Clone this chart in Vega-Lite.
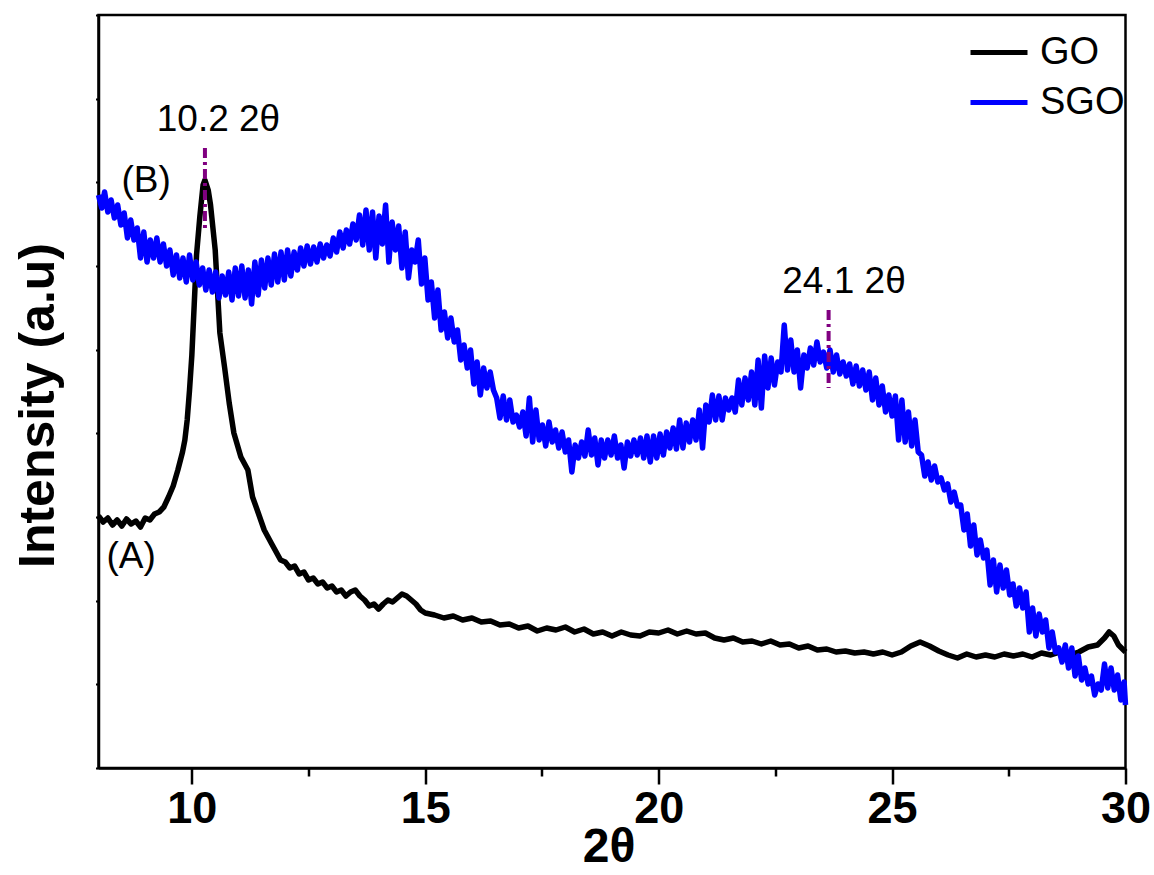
{
  "$schema": "https://vega.github.io/schema/vega-lite/v6.json",
  "autosize": "none",
  "width": 1027,
  "height": 753,
  "padding": {"left": 98.5, "top": 15, "right": 28.5, "bottom": 107},
  "background": "white",
  "config": {
    "view": {"stroke": "black", "strokeWidth": 2.5},
    "axis": {"domainColor": "black", "domainWidth": 2.5, "tickColor": "black", "grid": false}
  },
  "datasets": {
    "curves": [
      {"s":"GO","t":8.0,"i":252},{"s":"GO","t":8.1,"i":246},{"s":"GO","t":8.2,"i":250},{"s":"GO","t":8.3,"i":243},{"s":"GO","t":8.4,"i":248},{"s":"GO","t":8.5,"i":242},{"s":"GO","t":8.6,"i":249},{"s":"GO","t":8.7,"i":244},{"s":"GO","t":8.8,"i":247},{"s":"GO","t":8.9,"i":241},{"s":"GO","t":9.0,"i":250},{"s":"GO","t":9.1,"i":248},{"s":"GO","t":9.2,"i":254},{"s":"GO","t":9.3,"i":256},{"s":"GO","t":9.4,"i":261},{"s":"GO","t":9.5,"i":271},{"s":"GO","t":9.6,"i":282},{"s":"GO","t":9.7,"i":298},{"s":"GO","t":9.8,"i":316},{"s":"GO","t":9.85,"i":328},{"s":"GO","t":9.9,"i":348},{"s":"GO","t":9.95,"i":378},{"s":"GO","t":10.0,"i":413},{"s":"GO","t":10.05,"i":463},{"s":"GO","t":10.1,"i":513},{"s":"GO","t":10.17,"i":551},{"s":"GO","t":10.24,"i":583},{"s":"GO","t":10.28,"i":588},{"s":"GO","t":10.35,"i":578},{"s":"GO","t":10.4,"i":563},{"s":"GO","t":10.5,"i":518},{"s":"GO","t":10.6,"i":435},{"s":"GO","t":10.7,"i":401},{"s":"GO","t":10.8,"i":365},{"s":"GO","t":10.9,"i":335},{"s":"GO","t":11.05,"i":311},{"s":"GO","t":11.2,"i":298},{"s":"GO","t":11.3,"i":271},{"s":"GO","t":11.4,"i":258},{"s":"GO","t":11.55,"i":238},{"s":"GO","t":11.7,"i":225},{"s":"GO","t":11.9,"i":208},{"s":"GO","t":12.0,"i":206},{"s":"GO","t":12.1,"i":200},{"s":"GO","t":12.2,"i":202},{"s":"GO","t":12.3,"i":194},{"s":"GO","t":12.4,"i":196},{"s":"GO","t":12.5,"i":188},{"s":"GO","t":12.6,"i":190},{"s":"GO","t":12.7,"i":184},{"s":"GO","t":12.8,"i":186},{"s":"GO","t":12.9,"i":180},{"s":"GO","t":13.0,"i":182},{"s":"GO","t":13.1,"i":176},{"s":"GO","t":13.2,"i":178},{"s":"GO","t":13.3,"i":172},{"s":"GO","t":13.4,"i":176},{"s":"GO","t":13.5,"i":178},{"s":"GO","t":13.6,"i":172},{"s":"GO","t":13.7,"i":168},{"s":"GO","t":13.8,"i":162},{"s":"GO","t":13.9,"i":164},{"s":"GO","t":14.0,"i":159},{"s":"GO","t":14.1,"i":164},{"s":"GO","t":14.2,"i":168},{"s":"GO","t":14.3,"i":166},{"s":"GO","t":14.4,"i":170},{"s":"GO","t":14.5,"i":174},{"s":"GO","t":14.6,"i":172},{"s":"GO","t":14.7,"i":168},{"s":"GO","t":14.8,"i":164},{"s":"GO","t":14.9,"i":158},{"s":"GO","t":15.0,"i":155},{"s":"GO","t":15.2,"i":153},{"s":"GO","t":15.4,"i":150},{"s":"GO","t":15.6,"i":152},{"s":"GO","t":15.8,"i":148},{"s":"GO","t":16.0,"i":150},{"s":"GO","t":16.2,"i":146},{"s":"GO","t":16.4,"i":147},{"s":"GO","t":16.6,"i":143},{"s":"GO","t":16.8,"i":144},{"s":"GO","t":17.0,"i":140},{"s":"GO","t":17.2,"i":142},{"s":"GO","t":17.4,"i":137},{"s":"GO","t":17.6,"i":140},{"s":"GO","t":17.8,"i":138},{"s":"GO","t":18.0,"i":141},{"s":"GO","t":18.2,"i":136},{"s":"GO","t":18.4,"i":139},{"s":"GO","t":18.6,"i":134},{"s":"GO","t":18.8,"i":136},{"s":"GO","t":19.0,"i":132},{"s":"GO","t":19.2,"i":136},{"s":"GO","t":19.4,"i":133},{"s":"GO","t":19.6,"i":132},{"s":"GO","t":19.8,"i":136},{"s":"GO","t":20.0,"i":135},{"s":"GO","t":20.2,"i":138},{"s":"GO","t":20.4,"i":134},{"s":"GO","t":20.6,"i":137},{"s":"GO","t":20.8,"i":134},{"s":"GO","t":21.0,"i":135},{"s":"GO","t":21.2,"i":130},{"s":"GO","t":21.4,"i":128},{"s":"GO","t":21.6,"i":130},{"s":"GO","t":21.8,"i":126},{"s":"GO","t":22.0,"i":127},{"s":"GO","t":22.2,"i":124},{"s":"GO","t":22.4,"i":127},{"s":"GO","t":22.6,"i":123},{"s":"GO","t":22.8,"i":124},{"s":"GO","t":23.0,"i":120},{"s":"GO","t":23.2,"i":122},{"s":"GO","t":23.4,"i":118},{"s":"GO","t":23.6,"i":119},{"s":"GO","t":23.8,"i":116},{"s":"GO","t":24.0,"i":117},{"s":"GO","t":24.2,"i":115},{"s":"GO","t":24.4,"i":116},{"s":"GO","t":24.6,"i":114},{"s":"GO","t":24.8,"i":116},{"s":"GO","t":25.0,"i":113},{"s":"GO","t":25.2,"i":116},{"s":"GO","t":25.4,"i":122},{"s":"GO","t":25.6,"i":126},{"s":"GO","t":25.8,"i":122},{"s":"GO","t":26.0,"i":117},{"s":"GO","t":26.2,"i":113},{"s":"GO","t":26.4,"i":110},{"s":"GO","t":26.6,"i":114},{"s":"GO","t":26.8,"i":111},{"s":"GO","t":27.0,"i":113},{"s":"GO","t":27.2,"i":111},{"s":"GO","t":27.4,"i":114},{"s":"GO","t":27.6,"i":112},{"s":"GO","t":27.8,"i":114},{"s":"GO","t":28.0,"i":111},{"s":"GO","t":28.2,"i":115},{"s":"GO","t":28.4,"i":113},{"s":"GO","t":28.6,"i":116},{"s":"GO","t":28.8,"i":113},{"s":"GO","t":29.0,"i":116},{"s":"GO","t":29.2,"i":121},{"s":"GO","t":29.4,"i":123},{"s":"GO","t":29.55,"i":130},{"s":"GO","t":29.65,"i":136},{"s":"GO","t":29.75,"i":132},{"s":"GO","t":29.85,"i":123},{"s":"GO","t":30.0,"i":116},
      {"s":"SGO","t":8.00,"i":573},{"s":"SGO","t":8.07,"i":560},{"s":"SGO","t":8.13,"i":576},{"s":"SGO","t":8.20,"i":556},{"s":"SGO","t":8.27,"i":568},{"s":"SGO","t":8.34,"i":550},{"s":"SGO","t":8.41,"i":563},{"s":"SGO","t":8.48,"i":543},{"s":"SGO","t":8.55,"i":555},{"s":"SGO","t":8.62,"i":530},{"s":"SGO","t":8.69,"i":548},{"s":"SGO","t":8.76,"i":528},{"s":"SGO","t":8.83,"i":540},{"s":"SGO","t":8.90,"i":510},{"s":"SGO","t":8.97,"i":536},{"s":"SGO","t":9.04,"i":506},{"s":"SGO","t":9.11,"i":528},{"s":"SGO","t":9.18,"i":510},{"s":"SGO","t":9.25,"i":530},{"s":"SGO","t":9.32,"i":506},{"s":"SGO","t":9.39,"i":524},{"s":"SGO","t":9.46,"i":502},{"s":"SGO","t":9.53,"i":518},{"s":"SGO","t":9.60,"i":493},{"s":"SGO","t":9.67,"i":513},{"s":"SGO","t":9.74,"i":490},{"s":"SGO","t":9.81,"i":510},{"s":"SGO","t":9.88,"i":486},{"s":"SGO","t":9.95,"i":513},{"s":"SGO","t":10.02,"i":488},{"s":"SGO","t":10.09,"i":506},{"s":"SGO","t":10.16,"i":483},{"s":"SGO","t":10.23,"i":500},{"s":"SGO","t":10.30,"i":478},{"s":"SGO","t":10.37,"i":498},{"s":"SGO","t":10.44,"i":476},{"s":"SGO","t":10.51,"i":496},{"s":"SGO","t":10.58,"i":470},{"s":"SGO","t":10.65,"i":492},{"s":"SGO","t":10.72,"i":473},{"s":"SGO","t":10.79,"i":496},{"s":"SGO","t":10.86,"i":468},{"s":"SGO","t":10.93,"i":500},{"s":"SGO","t":11.00,"i":472},{"s":"SGO","t":11.07,"i":502},{"s":"SGO","t":11.14,"i":470},{"s":"SGO","t":11.21,"i":498},{"s":"SGO","t":11.28,"i":464},{"s":"SGO","t":11.35,"i":506},{"s":"SGO","t":11.42,"i":473},{"s":"SGO","t":11.49,"i":508},{"s":"SGO","t":11.56,"i":480},{"s":"SGO","t":11.63,"i":510},{"s":"SGO","t":11.70,"i":483},{"s":"SGO","t":11.77,"i":514},{"s":"SGO","t":11.84,"i":486},{"s":"SGO","t":11.91,"i":516},{"s":"SGO","t":11.98,"i":488},{"s":"SGO","t":12.05,"i":518},{"s":"SGO","t":12.12,"i":492},{"s":"SGO","t":12.19,"i":516},{"s":"SGO","t":12.26,"i":498},{"s":"SGO","t":12.33,"i":520},{"s":"SGO","t":12.40,"i":502},{"s":"SGO","t":12.47,"i":522},{"s":"SGO","t":12.54,"i":504},{"s":"SGO","t":12.61,"i":521},{"s":"SGO","t":12.68,"i":506},{"s":"SGO","t":12.75,"i":524},{"s":"SGO","t":12.82,"i":510},{"s":"SGO","t":12.89,"i":523},{"s":"SGO","t":12.96,"i":512},{"s":"SGO","t":13.03,"i":530},{"s":"SGO","t":13.10,"i":516},{"s":"SGO","t":13.17,"i":536},{"s":"SGO","t":13.24,"i":520},{"s":"SGO","t":13.31,"i":538},{"s":"SGO","t":13.38,"i":524},{"s":"SGO","t":13.45,"i":544},{"s":"SGO","t":13.52,"i":528},{"s":"SGO","t":13.59,"i":553},{"s":"SGO","t":13.66,"i":523},{"s":"SGO","t":13.73,"i":558},{"s":"SGO","t":13.80,"i":518},{"s":"SGO","t":13.87,"i":556},{"s":"SGO","t":13.94,"i":510},{"s":"SGO","t":14.01,"i":552},{"s":"SGO","t":14.08,"i":524},{"s":"SGO","t":14.15,"i":563},{"s":"SGO","t":14.22,"i":506},{"s":"SGO","t":14.29,"i":546},{"s":"SGO","t":14.36,"i":518},{"s":"SGO","t":14.43,"i":542},{"s":"SGO","t":14.50,"i":500},{"s":"SGO","t":14.57,"i":536},{"s":"SGO","t":14.64,"i":490},{"s":"SGO","t":14.71,"i":518},{"s":"SGO","t":14.78,"i":506},{"s":"SGO","t":14.85,"i":528},{"s":"SGO","t":14.92,"i":484},{"s":"SGO","t":14.99,"i":510},{"s":"SGO","t":15.06,"i":468},{"s":"SGO","t":15.13,"i":486},{"s":"SGO","t":15.20,"i":450},{"s":"SGO","t":15.27,"i":478},{"s":"SGO","t":15.34,"i":438},{"s":"SGO","t":15.41,"i":456},{"s":"SGO","t":15.48,"i":430},{"s":"SGO","t":15.55,"i":450},{"s":"SGO","t":15.62,"i":426},{"s":"SGO","t":15.69,"i":438},{"s":"SGO","t":15.76,"i":408},{"s":"SGO","t":15.83,"i":423},{"s":"SGO","t":15.90,"i":400},{"s":"SGO","t":15.97,"i":418},{"s":"SGO","t":16.04,"i":384},{"s":"SGO","t":16.11,"i":406},{"s":"SGO","t":16.18,"i":373},{"s":"SGO","t":16.25,"i":400},{"s":"SGO","t":16.32,"i":380},{"s":"SGO","t":16.39,"i":396},{"s":"SGO","t":16.46,"i":378},{"s":"SGO","t":16.53,"i":370},{"s":"SGO","t":16.60,"i":350},{"s":"SGO","t":16.67,"i":372},{"s":"SGO","t":16.74,"i":348},{"s":"SGO","t":16.81,"i":368},{"s":"SGO","t":16.88,"i":346},{"s":"SGO","t":16.95,"i":353},{"s":"SGO","t":17.02,"i":341},{"s":"SGO","t":17.09,"i":356},{"s":"SGO","t":17.16,"i":332},{"s":"SGO","t":17.23,"i":370},{"s":"SGO","t":17.30,"i":326},{"s":"SGO","t":17.37,"i":358},{"s":"SGO","t":17.44,"i":328},{"s":"SGO","t":17.51,"i":343},{"s":"SGO","t":17.58,"i":322},{"s":"SGO","t":17.65,"i":346},{"s":"SGO","t":17.72,"i":326},{"s":"SGO","t":17.79,"i":338},{"s":"SGO","t":17.86,"i":320},{"s":"SGO","t":17.93,"i":336},{"s":"SGO","t":18.00,"i":316},{"s":"SGO","t":18.07,"i":328},{"s":"SGO","t":18.14,"i":296},{"s":"SGO","t":18.21,"i":323},{"s":"SGO","t":18.28,"i":310},{"s":"SGO","t":18.35,"i":326},{"s":"SGO","t":18.42,"i":312},{"s":"SGO","t":18.49,"i":338},{"s":"SGO","t":18.56,"i":313},{"s":"SGO","t":18.63,"i":330},{"s":"SGO","t":18.70,"i":303},{"s":"SGO","t":18.77,"i":328},{"s":"SGO","t":18.84,"i":310},{"s":"SGO","t":18.91,"i":328},{"s":"SGO","t":18.98,"i":313},{"s":"SGO","t":19.05,"i":332},{"s":"SGO","t":19.12,"i":310},{"s":"SGO","t":19.19,"i":323},{"s":"SGO","t":19.26,"i":300},{"s":"SGO","t":19.33,"i":326},{"s":"SGO","t":19.40,"i":312},{"s":"SGO","t":19.47,"i":328},{"s":"SGO","t":19.54,"i":313},{"s":"SGO","t":19.61,"i":330},{"s":"SGO","t":19.68,"i":310},{"s":"SGO","t":19.75,"i":332},{"s":"SGO","t":19.82,"i":306},{"s":"SGO","t":19.89,"i":332},{"s":"SGO","t":19.96,"i":310},{"s":"SGO","t":20.03,"i":334},{"s":"SGO","t":20.10,"i":313},{"s":"SGO","t":20.17,"i":336},{"s":"SGO","t":20.24,"i":320},{"s":"SGO","t":20.31,"i":340},{"s":"SGO","t":20.38,"i":319},{"s":"SGO","t":20.45,"i":348},{"s":"SGO","t":20.52,"i":320},{"s":"SGO","t":20.59,"i":345},{"s":"SGO","t":20.66,"i":326},{"s":"SGO","t":20.73,"i":348},{"s":"SGO","t":20.80,"i":328},{"s":"SGO","t":20.87,"i":358},{"s":"SGO","t":20.94,"i":320},{"s":"SGO","t":21.01,"i":363},{"s":"SGO","t":21.08,"i":346},{"s":"SGO","t":21.15,"i":373},{"s":"SGO","t":21.22,"i":348},{"s":"SGO","t":21.29,"i":372},{"s":"SGO","t":21.36,"i":348},{"s":"SGO","t":21.43,"i":370},{"s":"SGO","t":21.50,"i":358},{"s":"SGO","t":21.57,"i":370},{"s":"SGO","t":21.64,"i":356},{"s":"SGO","t":21.71,"i":388},{"s":"SGO","t":21.78,"i":363},{"s":"SGO","t":21.85,"i":390},{"s":"SGO","t":21.92,"i":368},{"s":"SGO","t":21.99,"i":396},{"s":"SGO","t":22.06,"i":363},{"s":"SGO","t":22.13,"i":408},{"s":"SGO","t":22.20,"i":360},{"s":"SGO","t":22.27,"i":412},{"s":"SGO","t":22.34,"i":380},{"s":"SGO","t":22.41,"i":410},{"s":"SGO","t":22.48,"i":383},{"s":"SGO","t":22.55,"i":406},{"s":"SGO","t":22.62,"i":396},{"s":"SGO","t":22.69,"i":443},{"s":"SGO","t":22.76,"i":398},{"s":"SGO","t":22.83,"i":428},{"s":"SGO","t":22.90,"i":396},{"s":"SGO","t":22.97,"i":418},{"s":"SGO","t":23.04,"i":380},{"s":"SGO","t":23.11,"i":413},{"s":"SGO","t":23.18,"i":400},{"s":"SGO","t":23.25,"i":420},{"s":"SGO","t":23.32,"i":403},{"s":"SGO","t":23.39,"i":426},{"s":"SGO","t":23.46,"i":406},{"s":"SGO","t":23.53,"i":416},{"s":"SGO","t":23.60,"i":400},{"s":"SGO","t":23.67,"i":418},{"s":"SGO","t":23.74,"i":396},{"s":"SGO","t":23.81,"i":413},{"s":"SGO","t":23.88,"i":394},{"s":"SGO","t":23.95,"i":406},{"s":"SGO","t":24.02,"i":392},{"s":"SGO","t":24.09,"i":404},{"s":"SGO","t":24.16,"i":384},{"s":"SGO","t":24.23,"i":402},{"s":"SGO","t":24.30,"i":382},{"s":"SGO","t":24.37,"i":398},{"s":"SGO","t":24.44,"i":378},{"s":"SGO","t":24.51,"i":396},{"s":"SGO","t":24.58,"i":368},{"s":"SGO","t":24.65,"i":390},{"s":"SGO","t":24.72,"i":363},{"s":"SGO","t":24.79,"i":382},{"s":"SGO","t":24.86,"i":356},{"s":"SGO","t":24.93,"i":373},{"s":"SGO","t":25.00,"i":352},{"s":"SGO","t":25.07,"i":372},{"s":"SGO","t":25.14,"i":328},{"s":"SGO","t":25.21,"i":368},{"s":"SGO","t":25.28,"i":326},{"s":"SGO","t":25.35,"i":356},{"s":"SGO","t":25.42,"i":322},{"s":"SGO","t":25.49,"i":348},{"s":"SGO","t":25.56,"i":316},{"s":"SGO","t":25.63,"i":313},{"s":"SGO","t":25.70,"i":292},{"s":"SGO","t":25.77,"i":306},{"s":"SGO","t":25.84,"i":288},{"s":"SGO","t":25.91,"i":302},{"s":"SGO","t":25.98,"i":286},{"s":"SGO","t":26.05,"i":290},{"s":"SGO","t":26.12,"i":278},{"s":"SGO","t":26.19,"i":284},{"s":"SGO","t":26.26,"i":266},{"s":"SGO","t":26.33,"i":276},{"s":"SGO","t":26.40,"i":262},{"s":"SGO","t":26.47,"i":263},{"s":"SGO","t":26.54,"i":238},{"s":"SGO","t":26.61,"i":254},{"s":"SGO","t":26.68,"i":222},{"s":"SGO","t":26.75,"i":243},{"s":"SGO","t":26.82,"i":213},{"s":"SGO","t":26.89,"i":228},{"s":"SGO","t":26.96,"i":210},{"s":"SGO","t":27.03,"i":218},{"s":"SGO","t":27.10,"i":183},{"s":"SGO","t":27.17,"i":208},{"s":"SGO","t":27.24,"i":176},{"s":"SGO","t":27.31,"i":203},{"s":"SGO","t":27.38,"i":180},{"s":"SGO","t":27.45,"i":198},{"s":"SGO","t":27.52,"i":173},{"s":"SGO","t":27.59,"i":184},{"s":"SGO","t":27.66,"i":162},{"s":"SGO","t":27.73,"i":180},{"s":"SGO","t":27.80,"i":160},{"s":"SGO","t":27.87,"i":176},{"s":"SGO","t":27.94,"i":136},{"s":"SGO","t":28.01,"i":160},{"s":"SGO","t":28.08,"i":132},{"s":"SGO","t":28.15,"i":154},{"s":"SGO","t":28.22,"i":136},{"s":"SGO","t":28.29,"i":148},{"s":"SGO","t":28.36,"i":120},{"s":"SGO","t":28.43,"i":136},{"s":"SGO","t":28.50,"i":116},{"s":"SGO","t":28.57,"i":120},{"s":"SGO","t":28.64,"i":106},{"s":"SGO","t":28.71,"i":123},{"s":"SGO","t":28.78,"i":100},{"s":"SGO","t":28.85,"i":120},{"s":"SGO","t":28.92,"i":92},{"s":"SGO","t":28.99,"i":112},{"s":"SGO","t":29.06,"i":88},{"s":"SGO","t":29.13,"i":100},{"s":"SGO","t":29.20,"i":84},{"s":"SGO","t":29.27,"i":92},{"s":"SGO","t":29.34,"i":73},{"s":"SGO","t":29.41,"i":84},{"s":"SGO","t":29.48,"i":78},{"s":"SGO","t":29.55,"i":104},{"s":"SGO","t":29.62,"i":80},{"s":"SGO","t":29.69,"i":100},{"s":"SGO","t":29.76,"i":78},{"s":"SGO","t":29.83,"i":93},{"s":"SGO","t":29.90,"i":68},{"s":"SGO","t":29.97,"i":86},{"s":"SGO","t":30.00,"i":63}
    ],
    "notes": [
      {"label":"10.2 2θ","t":10.57,"i":648},
      {"label":"(B)","t":9.02,"i":587},
      {"label":"(A)","t":8.70,"i":211},
      {"label":"24.1 2θ","t":23.97,"i":486}
    ],
    "peaks": [
      {"t":10.28,"i":620,"i2":540},
      {"t":23.64,"i":458,"i2":380}
    ]
  },
  "layer": [
    {
      "data": {"name": "curves"},
      "mark": {"type": "line", "strokeWidth": 5.5, "strokeJoin": "round"},
      "encoding": {
        "x": {
          "field": "t", "type": "quantitative",
          "scale": {"domain": [8, 30], "nice": false, "zero": false},
          "axis": {
            "values": [10, 12.5, 15, 17.5, 20, 22.5, 25, 27.5, 30],
            "labelExpr": "datum.value % 5 === 0 ? datum.label : ''",
            "tickSize": {"condition": {"test": "datum.value % 5 === 0", "value": 16}, "value": 8},
            "tickWidth": 2.5,
            "labelFont": "Liberation Sans",
            "labelFontWeight": "bold",
            "labelFontSize": 45,
            "labelColor": "black",
            "labelPadding": 2,
            "labelFlush": false,
            "labelOverlap": false,
            "title": "2θ",
            "titleFont": "Liberation Sans",
            "titleFontWeight": "bold",
            "titleFontSize": 48,
            "titleColor": "black",
            "titleBaseline": "alphabetic",
            "titleX": 510,
            "titleY": 93
          }
        },
        "y": {
          "field": "i", "type": "quantitative",
          "scale": {"domain": [0, 753], "nice": false, "zero": false},
          "axis": {
            "values": [0, 83.67, 167.33, 251, 334.67, 418.33, 502, 585.67, 669.33, 753],
            "labels": false,
            "tickSize": 3,
            "tickWidth": 2,
            "title": "Intensity (a.u)",
            "titleFont": "Liberation Sans",
            "titleFontWeight": "bold",
            "titleFontSize": 50,
            "titleColor": "black",
            "titleAngle": -90,
            "titleAlign": "center",
            "titleBaseline": "alphabetic",
            "titleX": -45.5,
            "titleY": 390
          }
        },
        "color": {
          "field": "s", "type": "nominal",
          "scale": {"domain": ["GO", "SGO"], "range": ["#000000", "#0000ff"]},
          "legend": {
            "orient": "none",
            "legendX": 869.5,
            "legendY": 6.5,
            "title": null,
            "padding": 0,
            "symbolType": "stroke",
            "symbolSize": 3249,
            "symbolStrokeWidth": 5,
            "labelFont": "Liberation Sans",
            "labelFontSize": 38,
            "labelColor": "black",
            "labelOffset": 10,
            "labelLimit": 300,
            "rowPadding": -8
          }
        }
      }
    },
    {
      "data": {"name": "peaks"},
      "mark": {"type": "rule", "color": "#800080", "strokeWidth": 4, "strokeDash": [10, 4, 3, 4]},
      "encoding": {
        "x": {"field": "t", "type": "quantitative"},
        "y": {"field": "i", "type": "quantitative"},
        "y2": {"field": "i2"}
      }
    },
    {
      "data": {"name": "notes"},
      "mark": {"type": "text", "font": "Liberation Sans", "fontSize": 37, "align": "center", "baseline": "middle", "color": "black"},
      "encoding": {
        "x": {"field": "t", "type": "quantitative"},
        "y": {"field": "i", "type": "quantitative"},
        "text": {"field": "label"}
      }
    }
  ]
}
